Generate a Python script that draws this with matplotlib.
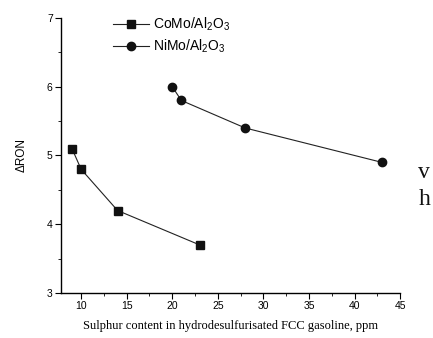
import matplotlib
matplotlib.use('Agg')
import matplotlib.pyplot as plt
import matplotlib.ticker as ticker

como_x = [9, 10, 14, 23]
como_y = [5.1, 4.8, 4.2, 3.7]
nimo_x = [20, 21, 28, 43]
nimo_y = [6.0, 5.8, 5.4, 4.9]

x_ticks = [10, 15, 20, 25, 30, 35, 40, 45]
y_ticks = [3, 4, 5, 6, 7]

plt.rcParams['font.family'] = ['Liberation Sans', 'DejaVu Sans']
plt.rcParams['mathtext.fontset'] = 'custom'
plt.rcParams['mathtext.rm'] = 'Liberation Sans'

fig = plt.figure(figsize=(4.33, 3.38), dpi=100)
ax = fig.add_axes([0.141, 0.133, 0.783, 0.814])

ax.plot(como_x, como_y, color='#222222', linewidth=0.8, marker='s', markersize=5.3,
        markerfacecolor='#111111', markeredgecolor='#111111', label='CoMo/Al$_2$O$_3$')
ax.plot(nimo_x, nimo_y, color='#222222', linewidth=0.8, marker='o', markersize=6,
        markerfacecolor='#111111', markeredgecolor='#111111', label='NiMo/Al$_2$O$_3$')

ax.set_xlim(7.8, 45)
ax.set_ylim(3, 7)
ax.set_xticks(x_ticks)
ax.set_yticks(y_ticks)
ax.xaxis.set_minor_locator(ticker.MultipleLocator(2.5))
ax.yaxis.set_minor_locator(ticker.MultipleLocator(0.5))
ax.tick_params(which='major', direction='out', length=4, width=0.8, labelsize=7.5, pad=2)
ax.tick_params(which='minor', direction='out', length=2, width=0.6)
ax.spines['top'].set_visible(False)
ax.spines['right'].set_visible(False)
for s in ['left', 'bottom']:
    ax.spines[s].set_linewidth(1.0)

ax.set_ylabel('ΔRON', fontsize=8.5, labelpad=14)
ax.set_xlabel('Sulphur content in hydrodesulfurisated FCC gasoline, ppm',
              fontsize=9, family='Liberation Serif', labelpad=6)

fig.legend(loc='upper left', bbox_to_anchor=(0.231, 0.99), frameon=False,
           fontsize=10, handlelength=2.6, handletextpad=0.35, labelspacing=0.3)

# fragments of the surrounding page text at the right edge
fig.text(0.966, 0.473, 'v', fontsize=17, family='Liberation Serif', color='#111111')
fig.text(0.966, 0.393, 'h', fontsize=17, family='Liberation Serif', color='#111111')

fig.savefig('out.png', dpi=100)
